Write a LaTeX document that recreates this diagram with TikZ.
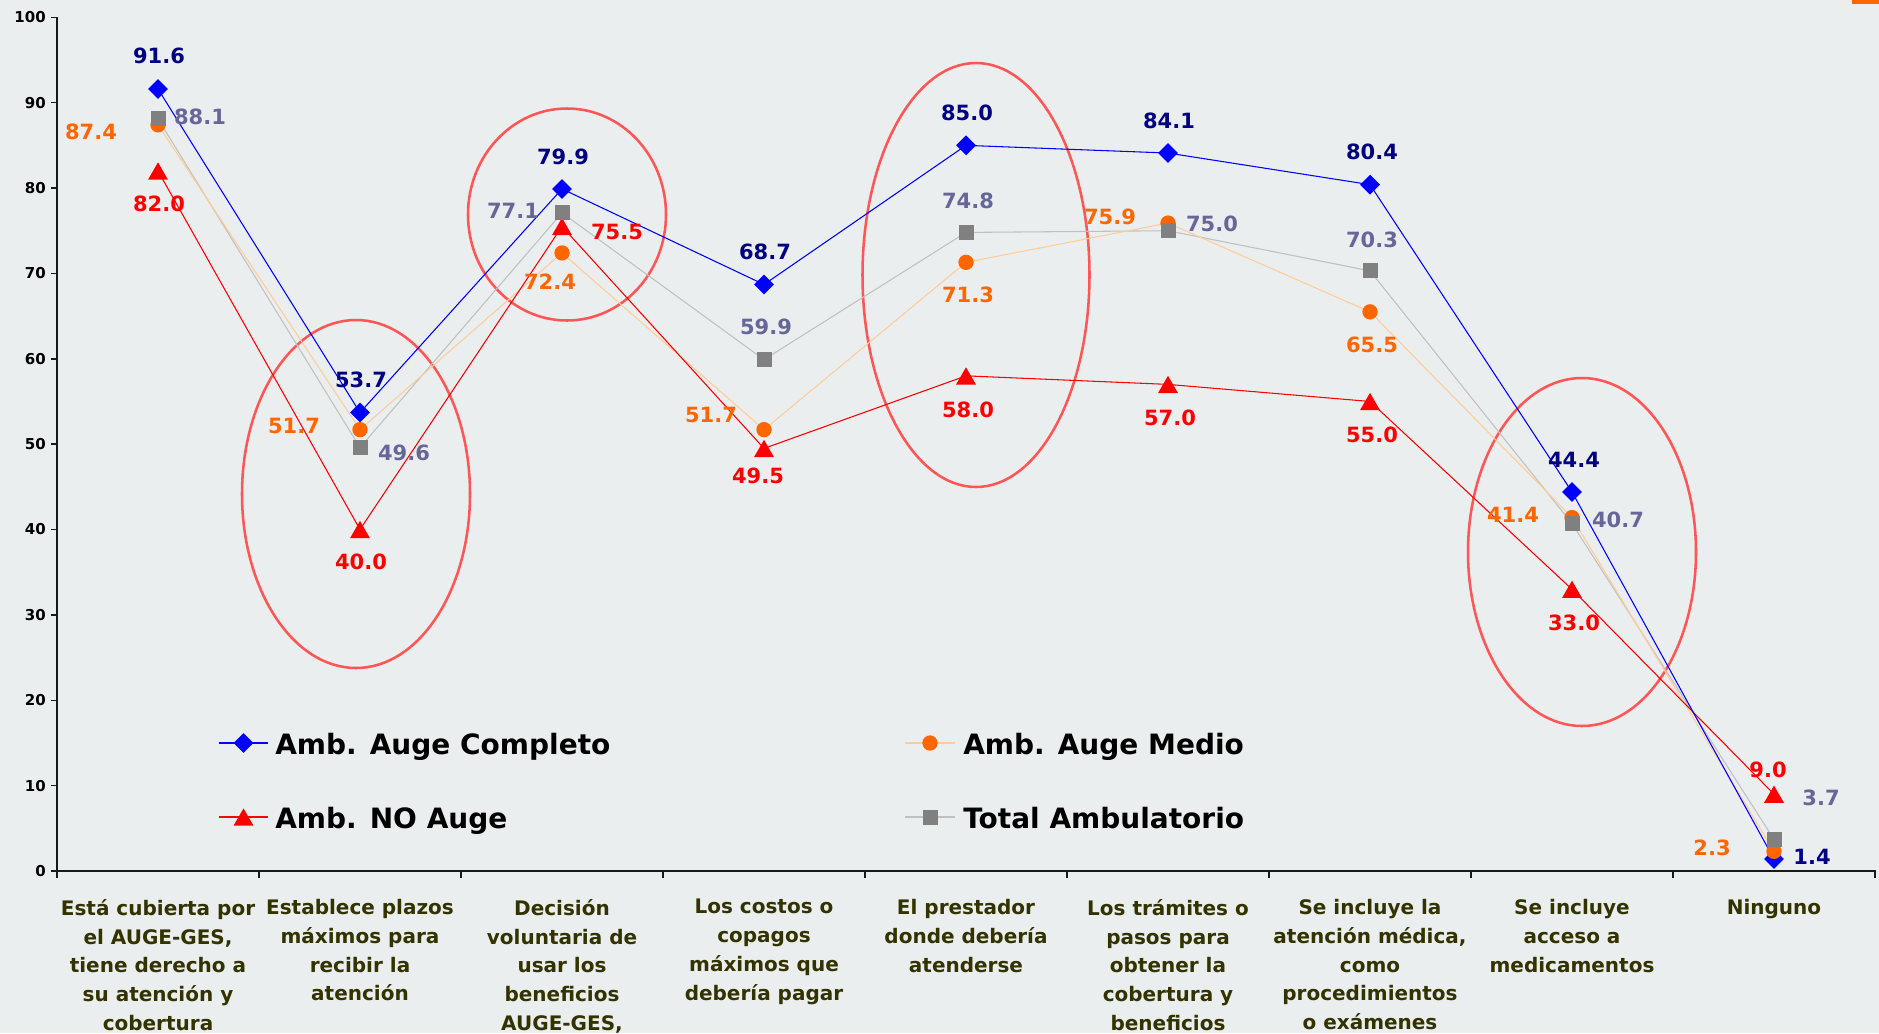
\documentclass[tikz,border=0pt]{standalone}
\usepackage{fontspec}
\setmainfont{DejaVu Sans}
\usetikzlibrary{shapes.geometric}
\definecolor{bg}{RGB}{235,238,238}
\definecolor{navyl}{RGB}{0,0,128}
\definecolor{orng}{RGB}{255,102,0}
\definecolor{orngl}{RGB}{255,204,153}
\definecolor{grayl}{RGB}{192,192,192}
\definecolor{graym}{RGB}{128,128,128}
\definecolor{slate}{RGB}{102,102,153}
\definecolor{ellc}{RGB}{255,85,85}
\definecolor{olive}{RGB}{51,51,0}
\definecolor{axc}{RGB}{25,25,25}
\begin{document}
\begin{tikzpicture}[x=0.75pt,y=-0.75pt,
  dlab/.style={font=\fontsize{15.75}{18}\selectfont\bfseries, inner sep=0pt},
  lab a/.style={dlab, text=navyl},
  lab m/.style={dlab, text=orng},
  lab n/.style={dlab, text=red},
  lab t/.style={dlab, text=slate},
  line a/.style={draw=blue, line width=0.8pt},
  line m/.style={draw=orngl, line width=0.8pt},
  line n/.style={draw=red, line width=0.8pt},
  line t/.style={draw=grayl, line width=0.8pt},
  mk a/.style={diamond, fill=blue, inner sep=0pt, minimum size=15pt},
  mk m/.style={circle, fill=orng, inner sep=0pt, minimum size=11.5pt},
  mk n/.style={regular polygon, regular polygon sides=3, fill=red, inner sep=0pt, minimum size=17.3pt, yshift=-2.2pt},
  mk t/.style={rectangle, fill=graym, inner sep=0pt, minimum size=11.25pt},
  axis/.style={draw=axc, line width=1.1pt},
  ylab/.style={font=\fontsize{11.25}{13}\selectfont\bfseries, text=black, inner sep=0pt, anchor=east},
  cat/.style={anchor=north, align=center, inner sep=0pt, text=olive,
    font=\fontsize{15}{21.6}\selectfont\bfseries, execute at begin node={\rule{0pt}{16pt}}},
  leg/.style={font=\fontsize{21}{24}\selectfont\bfseries, text=black, inner sep=0pt, anchor=base west},
  oval/.style={draw=ellc, line width=1.9pt}
]
\useasboundingbox (0,0) rectangle (1879,1033);
\fill[bg] (0,0) rectangle (1879,1033);
\fill[orng] (1852,0) rectangle (1879,3.5);

% axes
\coordinate (yb) at (57,871);
\coordinate (yt) at (57,17);
\coordinate (xr) at (1876,871);
\draw[axis] (yt) -- (yb) -- (xr);
\foreach \v in {0,10,...,100} {
  \draw[axis] (51,{871-8.537*\v}) -- (57,{871-8.537*\v});
  \node[ylab] (yl\v) at (46,{871-8.537*\v}) {\v};
}
\foreach \k in {0,...,9} {
  \draw[axis] ({57+202*\k},871) -- ({57+202*\k},878);
}

% data coordinates
\foreach \i/\va/\vm/\vn/\vt in {1/91.6/87.4/82.0/88.1, 2/53.7/51.7/40.0/49.6,
  3/79.9/72.4/75.5/77.1, 4/68.7/51.7/49.5/59.9, 5/85.0/71.3/58.0/74.8,
  6/84.1/75.9/57.0/75.0, 7/80.4/65.5/55.0/70.3, 8/44.4/41.4/33.0/40.7,
  9/1.4/2.3/9.0/3.7} {
  \coordinate (a\i) at ({57+202*(\i-0.5)},{871-8.537*\va});
  \coordinate (m\i) at ({57+202*(\i-0.5)},{871-8.537*\vm});
  \coordinate (n\i) at ({57+202*(\i-0.5)},{871-8.537*\vn});
  \coordinate (t\i) at ({57+202*(\i-0.5)},{871-8.537*\vt});
}

% ellipses
\draw[oval] (356,494) ellipse [x radius=114, y radius=174];
\draw[oval] (567,214.5) ellipse [x radius=99, y radius=106];
\draw[oval] (976,275) ellipse [x radius=113.5, y radius=212];
\draw[oval] (1582,552) ellipse [x radius=114, y radius=174];

% series lines
\draw[line t] (t1) -- (t2) -- (t3) -- (t4) -- (t5) -- (t6) -- (t7) -- (t8) -- (t9);
\draw[line m] (m1) -- (m2) -- (m3) -- (m4) -- (m5) -- (m6) -- (m7) -- (m8) -- (m9);
\draw[line n] (n1) -- (n2) -- (n3) -- (n4) -- (n5) -- (n6) -- (n7) -- (n8) -- (n9);
\draw[line a] (a1) -- (a2) -- (a3) -- (a4) -- (a5) -- (a6) -- (a7) -- (a8) -- (a9);

% markers
\foreach \i in {1,...,9} {
  \node[mk a] (A\i) at (a\i) {};
  \node[mk m] (M\i) at (m\i) {};
  \node[mk n] (N\i) at (n\i) {};
  \node[mk t] (T\i) at (t\i) {};
}

% labels Auge Completo
\node[lab a] (la1) at (159,56) {91.6};
\node[lab a] (la2) at (361,380) {53.7};
\node[lab a] (la3) at (563,157) {79.9};
\node[lab a] (la4) at (765,252) {68.7};
\node[lab a] (la5) at (967,113) {85.0};
\node[lab a] (la6) at (1169,121) {84.1};
\node[lab a] (la7) at (1372,152) {80.4};
\node[lab a] (la8) at (1574,460) {44.4};
\node[lab a] (la9) at (1812,857) {1.4};
% labels Auge Medio
\node[lab m] (lm1) at (91,132) {87.4};
\node[lab m] (lm2) at (294,426) {51.7};
\node[lab m] (lm3) at (550,282) {72.4};
\node[lab m] (lm4) at (711,415) {51.7};
\node[lab m] (lm5) at (968,295) {71.3};
\node[lab m] (lm6) at (1110,217) {75.9};
\node[lab m] (lm7) at (1372,345) {65.5};
\node[lab m] (lm8) at (1513,515) {41.4};
\node[lab m] (lm9) at (1712,848) {2.3};
% labels NO Auge
\node[lab n] (ln1) at (159,204) {82.0};
\node[lab n] (ln2) at (361,562) {40.0};
\node[lab n] (ln3) at (617,232) {75.5};
\node[lab n] (ln4) at (758,476) {49.5};
\node[lab n] (ln5) at (968,410) {58.0};
\node[lab n] (ln6) at (1170,418) {57.0};
\node[lab n] (ln7) at (1372,435) {55.0};
\node[lab n] (ln8) at (1574,623) {33.0};
\node[lab n] (ln9) at (1768,770) {9.0};
% labels Total
\node[lab t] (lt1) at (200,117) {88.1};
\node[lab t] (lt2) at (404,453) {49.6};
\node[lab t] (lt3) at (513,211) {77.1};
\node[lab t] (lt4) at (766,327) {59.9};
\node[lab t] (lt5) at (968,201) {74.8};
\node[lab t] (lt6) at (1212,224) {75.0};
\node[lab t] (lt7) at (1372,240) {70.3};
\node[lab t] (lt8) at (1618,520) {40.7};
\node[lab t] (lt9) at (1821,798) {3.7};

% legend
\coordinate (ga1) at (219,743); \coordinate (ga2) at (268,743);
\coordinate (gn1) at (219,817); \coordinate (gn2) at (268,817);
\coordinate (gm1) at (905,743); \coordinate (gm2) at (955,743);
\coordinate (gt1) at (905,817); \coordinate (gt2) at (955,817);
\draw[line a] (ga1) -- (ga2);
\draw[line n] (gn1) -- (gn2);
\draw[line m] (gm1) -- (gm2);
\draw[line t] (gt1) -- (gt2);
\node[mk a] (GA) at (243.5,743) {};
\node[mk n] (GN) at (243.5,817) {};
\node[mk m] (GM) at (930,743) {};
\node[mk t] (GT) at (930,817) {};
\node[leg] (LA) at (275,754) {Amb. Auge Completo};
\node[leg] (LN) at (275,828) {Amb. NO Auge};
\node[leg] (LM) at (963,754) {Amb. Auge Medio};
\node[leg] (LT) at (963,828) {Total Ambulatorio};

% category labels
\node[cat] (c1) at (158,899) {Está cubierta por\\el AUGE-GES,\\tiene derecho a\\su atención y\\cobertura};
\node[cat] (c2) at (360,899) {Establece plazos\\máximos para\\recibir la\\atención};
\node[cat] (c3) at (562,899) {Decisión\\voluntaria de\\usar los\\beneficios\\AUGE-GES,};
\node[cat] (c4) at (764,899) {Los costos o\\copagos\\máximos que\\debería pagar};
\node[cat] (c5) at (966,899) {El prestador\\donde debería\\atenderse};
\node[cat] (c6) at (1168,899) {Los trámites o\\pasos para\\obtener la\\cobertura y\\beneficios};
\node[cat] (c7) at (1370,899) {Se incluye la\\atención médica,\\como\\procedimientos\\o exámenes};
\node[cat] (c8) at (1572,899) {Se incluye\\acceso a\\medicamentos};
\node[cat] (c9) at (1774,893) {Ninguno};
\end{tikzpicture}
\end{document}
